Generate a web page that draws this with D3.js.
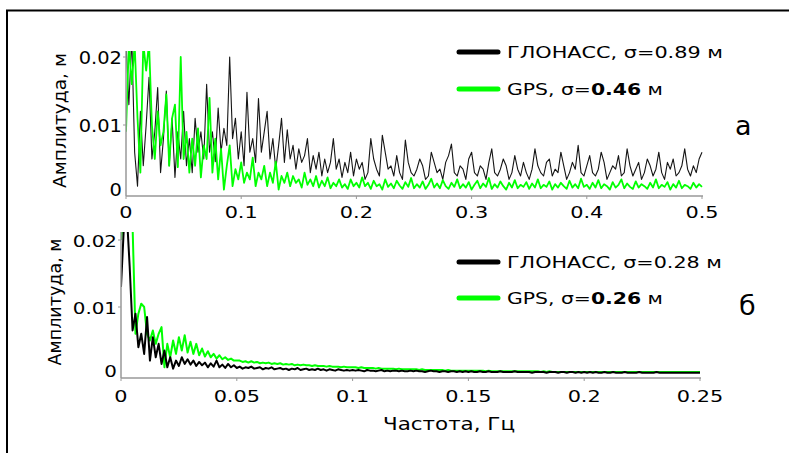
<!DOCTYPE html>
<html lang="ru">
<head>
<meta charset="UTF-8">
<title>Спектр ошибок</title>
<script src="https://cdn.jsdelivr.net/npm/d3@7"></script>
<style>
  body { margin: 0; background: #fff; }
  text { font-family: "DejaVu Sans", Verdana, sans-serif; fill: #000; }
</style>
</head>
<body>
<script>
// амплитуды в мм, бины частоты равномерны от 0 до fmax
const glonassA = [22, 13, 23, 6, 1, 12, 4, 10, 17, 5, 9, 15.5, 3, 8, 15, 4, 11, 2.3, 9, 5,
    12, 4, 8, 3, 11, 6, 9, 5, 16, 6, 9, 4.6, 12.5, 6, 9.5, 7, 20, 8, 11, 5,
    9, 4, 14.8, 6, 8, 4.5, 13.9, 6, 9, 12, 5, 8, 3.5, 7, 11, 4.5, 9.3, 5, 7, 3.5,
    6.5, 4.5, 5.5, 8, 3, 5.5, 3.5, 6, 2.5, 5, 3, 4.5, 8, 3.5, 5, 2.3, 4.5, 3, 6, 2.5,
    5, 3.5, 4.5, 2, 3, 8, 5, 3.5, 2.5, 8.5, 6, 3.5, 4, 2.5, 5.5, 3, 2, 7.8, 4.5, 3,
    2.5, 3.5, 5, 4, 2, 2.5, 6, 4.5, 3, 3.5, 2, 4.5, 5.5, 7.2, 3, 2.5, 4, 3.5, 2, 5,
    6, 3, 2.5, 4, 3.5, 2, 4.5, 6.5, 3, 2.5, 3.5, 5, 4, 2, 3, 5.5, 3.5, 2.5, 4.5, 3,
    2, 3.5, 6.5, 4, 3, 2.5, 4.5, 5, 2.5, 3.5, 3, 6, 4, 2, 3, 4.5, 3.5, 7, 3, 2.5,
    4, 5.5, 3, 2.5, 3.5, 6, 4.5, 2, 3, 4, 3.5, 5.5, 2.5, 3, 6.5, 4, 2.5, 3.5, 4.5, 2,
    3, 5, 4, 2.5, 3.5, 6, 3, 2, 4.5, 3.5, 5, 2.5, 3, 4, 6.5, 3.5, 2.5, 4, 3, 5, 6]
const gpsA = [9, 22, 16, 22, 11, 3, 22, 18, 22, 10, 5, 12, 7, 9, 14.5, 4, 11, 13, 3.8, 20,
    5, 9, 3, 8, 4, 9.5, 2.3, 7, 5, 14, 3, 8, 2, 6.5, 0.5, 4, 7, 1, 3.5, 2,
    4.5, 1.5, 3, 2, 5.2, 1, 3, 2, 4, 1, 3, 1.5, 4.6, 0.5, 2.5, 1.5, 3, 1, 2.5, 1.5,
    2, 0.8, 3, 1.2, 2, 1, 2.5, 0.8, 1.8, 1, 2.3, 0.7, 1.5, 1, 2, 0.8, 1.3, 0.6, 2, 1,
    1.5, 0.8, 2.3, 1, 1.5, 0.6, 1.8, 1, 1.3, 0.5, 2, 0.9, 1.4, 0.7, 1.8, 1.1, 0.6, 1.6, 0.9, 2.2,
    0.7, 1.3, 0.8, 1.7, 0.6, 1.2, 2.1, 0.8, 1.4, 0.7, 1.9, 1, 0.6, 1.5, 0.9, 2, 0.7, 1.3, 0.8, 1.6,
    0.5, 1.2, 1.8, 0.7, 1.4, 0.9, 2.2, 0.6, 1.3, 0.8, 1.7, 1, 0.5, 1.5, 0.8, 1.9, 0.7, 1.2, 0.9, 1.6,
    0.6, 1.4, 0.8, 2, 0.7, 1.2, 0.9, 1.7, 0.5, 1.3, 0.8, 1.5, 1, 0.6, 1.8, 0.8, 1.3, 0.7, 2.1, 0.9,
    1.2, 0.6, 1.5, 0.8, 1.9, 0.7, 1.3, 1, 0.5, 1.6, 0.8, 1.2, 2, 0.7, 1.4, 0.9, 0.6, 1.7, 0.8, 1.3,
    1, 0.6, 1.5, 0.8, 2, 0.7, 1.2, 0.9, 1.6, 0.5, 1.3, 0.8, 1.8, 0.7, 1.2, 1, 0.6, 1.5, 0.8, 1.3, 0.9]

const glonassB = [13, 22, 24, 16, 6.5, 9, 4, 6, 3, 8.5, 2, 5.5, 2.5, 4.5, 1.5, 3.5, 1, 2.5, 0.8, 2,
    1.2, 2.5, 1.5, 2.2, 1.4, 2, 1.2, 1.8, 1.3, 1.7, 1, 1.6, 1.1, 2, 1, 1.4, 0.9, 1.5, 1, 1.3,
    0.9, 1.1, 0.8, 1.0, 0.9, 1.1, 0.8, 0.9, 1.0, 0.7, 0.9, 0.8, 1.0, 0.7, 0.8, 0.9, 0.7, 0.8, 0.6, 0.8,
    0.7, 0.9, 0.6, 0.7, 0.8, 0.6, 0.7, 0.6, 0.8, 0.6, 0.7, 0.5, 0.7, 0.6, 0.5, 0.7, 0.6, 0.5, 0.6, 0.5,
    0.6, 0.5, 0.6, 0.5, 0.4, 0.6, 0.5, 0.5, 0.4, 0.5, 0.6, 0.4, 0.5, 0.4, 0.5, 0.5, 0.4, 0.5, 0.4, 0.4,
    0.5, 0.4, 0.5, 0.4, 0.4, 0.3, 0.4, 0.5, 0.4, 0.4, 0.3, 0.4, 0.4, 0.3, 0.4, 0.4, 0.3, 0.4, 0.3, 0.4,
    0.3, 0.4, 0.3, 0.3, 0.4, 0.3, 0.3, 0.4, 0.3, 0.3, 0.3, 0.4, 0.3, 0.3, 0.3, 0.3, 0.4, 0.3, 0.3, 0.3,
    0.3, 0.3, 0.2, 0.3, 0.3, 0.3, 0.3, 0.2, 0.3, 0.3, 0.3, 0.2, 0.3, 0.3, 0.2, 0.3, 0.3, 0.2, 0.3, 0.2,
    0.3, 0.2, 0.3, 0.2, 0.3, 0.2, 0.2, 0.3, 0.2, 0.2, 0.3, 0.2, 0.2, 0.2, 0.3, 0.2, 0.2, 0.2, 0.2, 0.3,
    0.2, 0.2, 0.2, 0.2, 0.2, 0.3, 0.2, 0.2, 0.2, 0.2, 0.2, 0.2, 0.2, 0.2, 0.2, 0.2, 0.2, 0.2, 0.2, 0.2, 0.2]
const gpsB = [20, 24, 26, 25, 22, 6, 9, 10.5, 10, 6, 5, 6.5, 4.5, 6, 7, 1, 4.5, 2.5, 5, 3,
    5.5, 3.5, 5.8, 3.2, 4.8, 3, 4.5, 2.8, 3.8, 2.6, 3.4, 2.5, 3, 2.3, 2.8, 2.2, 2.5, 2.1, 2.3, 2,
    2, 2.0, 1.8, 1.9, 1.7, 1.9, 1.7, 1.8, 1.6, 1.7, 1.6, 1.7, 1.5, 1.6, 1.5, 1.6, 1.4, 1.5, 1.4, 1.5,
    1.3, 1.4, 1.3, 1.4, 1.3, 1.3, 1.2, 1.3, 1.2, 1.2, 1.2, 1.1, 1.2, 1.1, 1.1, 1.1, 1.0, 1.1, 1.0, 1.0,
    1.0, 1.0, 0.9, 1.0, 0.9, 0.9, 0.9, 0.9, 0.8, 0.9, 0.8, 0.8, 0.8, 0.8, 0.8, 0.7, 0.8, 0.7, 0.7, 0.7,
    0.7, 0.7, 0.7, 0.6, 0.7, 0.6, 0.6, 0.6, 0.6, 0.6, 0.6, 0.6, 0.5, 0.6, 0.5, 0.5, 0.5, 0.5, 0.5, 0.5,
    0.5, 0.5, 0.5, 0.5, 0.5, 0.5, 0.4, 0.5, 0.4, 0.4, 0.4, 0.4, 0.4, 0.4, 0.4, 0.4, 0.4, 0.4, 0.4, 0.4,
    0.4, 0.4, 0.4, 0.4, 0.4, 0.3, 0.4, 0.3, 0.4, 0.3, 0.3, 0.3, 0.3, 0.3, 0.3, 0.3, 0.3, 0.3, 0.3, 0.3,
    0.3, 0.3, 0.3, 0.3, 0.3, 0.3, 0.3, 0.3, 0.3, 0.3, 0.3, 0.3, 0.3, 0.3, 0.3, 0.3, 0.3, 0.3, 0.3, 0.3,
    0.3, 0.3, 0.3, 0.3, 0.3, 0.3, 0.3, 0.3, 0.3, 0.3, 0.3, 0.3, 0.3, 0.3, 0.3, 0.3, 0.3, 0.3, 0.3, 0.3, 0.3]

const yTicks = [0, 0.01, 0.02]
const xTicksA = [0, 0.1, 0.2, 0.3, 0.4, 0.5]
const xTicksB = [0, 0.05, 0.1, 0.15, 0.2, 0.25]
const legendA = [{name: 'ГЛОНАСС', sigma: '0.89', bold: false}, {name: 'GPS', sigma: '0.46', bold: true}]
const legendB = [{name: 'ГЛОНАСС', sigma: '0.28', bold: false}, {name: 'GPS', sigma: '0.26', bold: true}]

const [width, height] = [789, 453]
const svg = d3.select('body').append('svg')
    .attr('width', width)
    .attr('height', height)

svg.append('rect')
    .attr('x', 7).attr('y', 10.5)
    .attr('width', 830).attr('height', 520)
    .attr('fill', 'none').attr('stroke', '#000').attr('stroke-width', 2)

// растянуть текст по ширине, как в оригинале
const stretch = (sel, k) => sel.each(function () {
    const l = this.getComputedTextLength()
    d3.select(this).attr('textLength', l * k).attr('lengthAdjust', 'spacingAndGlyphs')
})

const panels = [
    {id: 'a', letter: 'а', glo: glonassA, gps: gpsA, fmax: 0.5, xr: [126, 702], yr: [193, 57],
        axisY: 196, top: 51, xTicks: xTicksA, xLabY: 218, yLabX: 122, yLabSize: 18, yLabK: 1.08,
        legend: legendA, legY: [52, 89], legW: [216, 156], titleX: 66, titleLen: 135,
        letterPos: [735, 135], gloW: 1.1, gloC: '#151515', gpsW: 1.8, gpsOnTop: true},
    {id: 'b', letter: 'б', glo: glonassB, gps: gpsB, fmax: 0.25, xr: [121, 700], yr: [374, 240],
        axisY: 378, top: 232, xTicks: xTicksB, xLabY: 402, yLabX: 117, yLabSize: 16, yLabK: 1.24,
        legend: legendB, legY: [262, 298], legW: [215, 156], titleX: 61, titleLen: 127,
        letterPos: [739, 315], gloW: 2, gloC: '#000', gpsW: 2, gpsOnTop: false}
]

panels.forEach(p => {
    const x = d3.scaleLinear().domain([0, p.fmax]).range(p.xr)
    const y = d3.scaleLinear().domain([0, 0.02]).range(p.yr)
    const g = svg.append('g').attr('class', 'panel-' + p.id)

    g.append('clipPath').attr('id', 'clip-' + p.id)
        .append('rect')
        .attr('x', p.xr[0]).attr('y', p.top)
        .attr('width', p.xr[1] - p.xr[0] + 2).attr('height', p.axisY - p.top)

    const lineFor = arr => {
        const step = p.fmax / (arr.length - 1)
        return d3.line()
            .x((d, i) => x(i * step))
            .y(d => y(d / 1000))(arr)
    }

    const series = [
        {data: p.glo, color: p.gloC, w: p.gloW},
        {data: p.gps, color: '#00ff00', w: p.gpsW}
    ]
    if (!p.gpsOnTop) series.reverse()
    g.append('g').attr('clip-path', `url(#clip-${p.id})`)
        .selectAll('path').data(series).enter()
        .append('path')
        .attr('d', s => lineFor(s.data))
        .attr('fill', 'none')
        .attr('stroke', s => s.color)
        .attr('stroke-width', s => s.w)
        .attr('stroke-linejoin', 'round')

    // оси
    g.append('line')
        .attr('x1', p.xr[0]).attr('x2', p.xr[0])
        .attr('y1', p.top).attr('y2', p.axisY)
        .attr('stroke', '#999').attr('stroke-width', 1.5)
    g.append('line')
        .attr('x1', p.xr[0]).attr('x2', p.xr[1] + 1)
        .attr('y1', p.axisY).attr('y2', p.axisY)
        .attr('stroke', '#999').attr('stroke-width', 1.5)

    g.selectAll('line.xt').data(p.xTicks).enter()
        .append('line').attr('class', 'xt')
        .attr('x1', d => x(d)).attr('x2', d => x(d))
        .attr('y1', p.axisY).attr('y2', p.axisY + 3)
        .attr('stroke', '#999').attr('stroke-width', 1)
    g.selectAll('line.yt').data(yTicks.slice(1)).enter()
        .append('line').attr('class', 'yt')
        .attr('x1', p.xr[0] - 3).attr('x2', p.xr[0])
        .attr('y1', d => y(d)).attr('y2', d => y(d))
        .attr('stroke', '#999').attr('stroke-width', 1)

    const xl = g.selectAll('text.xl').data(p.xTicks).enter()
        .append('text').attr('class', 'xl')
        .attr('x', d => x(d)).attr('y', p.xLabY)
        .attr('text-anchor', 'middle')
        .attr('font-size', 16)
        .text(d => d === 0 ? '0' : String(d))
    stretch(xl, 1.3)

    const yl = g.selectAll('text.yl').data(yTicks).enter()
        .append('text').attr('class', 'yl')
        .attr('x', p.yLabX).attr('y', d => d === 0 ? y(d) - 3 : y(d) + 1)
        .attr('dy', '0.35em')
        .attr('text-anchor', 'end')
        .attr('font-size', p.yLabSize)
        .text(d => d === 0 ? '0' : String(d))
    stretch(yl, p.yLabK)

    g.append('text')
        .attr('transform', `translate(${p.titleX},${(p.top + p.axisY) / 2 - 3}) rotate(-90)`)
        .attr('text-anchor', 'middle')
        .attr('font-size', 17)
        .attr('textLength', p.titleLen).attr('lengthAdjust', 'spacingAndGlyphs')
        .text('Амплитуда, м')

    // легенда
    p.legend.forEach((l, i) => {
        g.append('line')
            .attr('x1', 459).attr('x2', 498)
            .attr('y1', p.legY[i]).attr('y2', p.legY[i])
            .attr('stroke', i === 0 ? '#000' : '#00ff00')
            .attr('stroke-width', 5).attr('stroke-linecap', 'round')
        const t = g.append('text')
            .attr('x', 507).attr('y', p.legY[i] + 6)
            .attr('font-size', 15)
            .attr('textLength', p.legW[i]).attr('lengthAdjust', 'spacingAndGlyphs')
        t.append('tspan').text(l.name + ', σ=')
        t.append('tspan').attr('font-weight', l.bold ? 'bold' : 'normal').text(l.sigma)
        t.append('tspan').text(' м')
    })

    g.append('text')
        .attr('x', p.letterPos[0]).attr('y', p.letterPos[1])
        .attr('font-size', 27)
        .text(p.letter)
})

svg.append('text')
    .attr('x', 449).attr('y', 430)
    .attr('text-anchor', 'middle')
    .attr('font-size', 17)
    .attr('textLength', 132).attr('lengthAdjust', 'spacingAndGlyphs')
    .text('Частота, Гц')
</script>
</body>
</html>
